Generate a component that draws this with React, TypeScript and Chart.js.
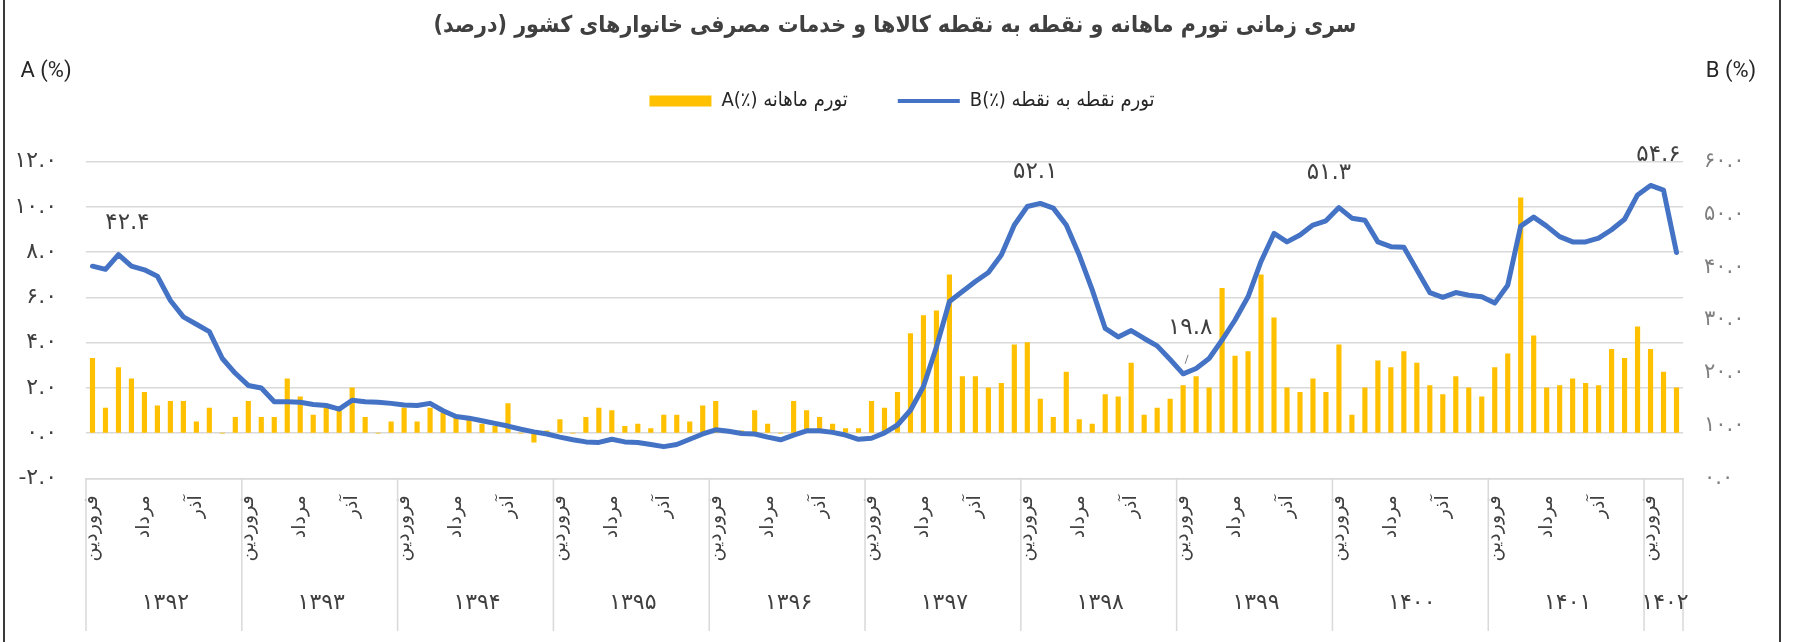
import React, { useEffect, useRef } from 'react';
import { Chart, registerables } from 'chart.js';

Chart.register(...registerables);

// ---------------- data ----------------
const TITLE = 'سری زمانی تورم ماهانه و نقطه به نقطه کالاها و خدمات مصرفی خانوارهای کشور (درصد)';
const YEARS = ['۱۳۹۲', '۱۳۹۳', '۱۳۹۴', '۱۳۹۵', '۱۳۹۶', '۱۳۹۷', '۱۳۹۸', '۱۳۹۹', '۱۴۰۰', '۱۴۰۱', '۱۴۰۲'];
const MONTHS = ['فروردین', 'اردیبهشت', 'خرداد', 'تیر', 'مرداد', 'شهریور', 'مهر', 'آبان', 'آذر', 'دی', 'بهمن', 'اسفند'];
const MONTHS_IN_LAST_YEAR = 3;
const SHOWN_MONTHS = ['فروردین', 'مرداد', 'آذر'];

const SERIES_A_NAME = 'A(٪) تورم ماهانه';
const SERIES_B_NAME = 'B(٪) تورم نقطه به نقطه';
const AXIS_A_TITLE = 'A (%)';
const AXIS_B_TITLE = 'B (%)';

// monthly inflation (left axis)
const MONTHLY_A = [
  3.3, 1.1, 2.9, 2.4, 1.8, 1.2, 1.4, 1.4, 0.5, 1.1, 0.0, 0.7,
  1.4, 0.7, 0.7, 2.4, 1.6, 0.8, 1.1, 1.0, 2.0, 0.7, 0.0, 0.5,
  1.1, 0.5, 1.1, 0.9, 0.7, 0.6, 0.4, 0.3, 1.3, 0.0, -0.4, 0.1,
  0.6, 0.0, 0.7, 1.1, 1.0, 0.3, 0.4, 0.2, 0.8, 0.8, 0.5, 1.2,
  1.4, 0.1, 0.1, 1.0, 0.4, 0.0, 1.4, 1.0, 0.7, 0.4, 0.2, 0.2,
  1.4, 1.1, 1.8, 4.4, 5.2, 5.4, 7.0, 2.5, 2.5, 2.0, 2.2, 3.9,
  4.0, 1.5, 0.7, 2.7, 0.6, 0.4, 1.7, 1.6, 3.1, 0.8, 1.1, 1.5,
  2.1, 2.5, 2.0, 6.4, 3.4, 3.6, 7.0, 5.1, 2.0, 1.8, 2.4, 1.8,
  3.9, 0.8, 2.0, 3.2, 2.9, 3.6, 3.1, 2.1, 1.7, 2.5, 2.0, 1.6,
  2.9, 3.5, 10.4, 4.3, 2.0, 2.1, 2.4, 2.2, 2.1, 3.7, 3.3, 4.7,
  3.7, 2.7, 2.0,
];

// point-to-point inflation (right axis)
const POINT_B = [
  40.2, 39.6, 42.4, 40.2, 39.5, 38.3, 33.7, 30.6, 29.2, 27.8, 22.7, 19.9,
  17.6, 17.1, 14.5, 14.5, 14.4, 14.0, 13.8, 13.1, 14.8, 14.5, 14.4, 14.2,
  13.9, 13.8, 14.2, 12.8, 11.7, 11.4, 10.9, 10.4, 9.9, 9.3, 8.8, 8.4,
  7.8, 7.3, 6.9, 6.8, 7.4, 6.9, 6.8, 6.4, 6.0, 6.4, 7.4, 8.4,
  9.2, 8.9, 8.5, 8.4, 7.8, 7.3, 8.2, 9.0, 9.0, 8.7, 8.2, 7.4,
  7.6, 8.6, 10.1, 12.9, 17.4, 24.9, 33.5, 35.4, 37.3, 39.0, 42.3, 48.0,
  51.5, 52.1, 51.2, 48.0, 42.3, 35.7, 28.4, 26.8, 28.0, 26.5, 25.1, 22.5,
  19.8, 20.8, 22.7, 26.2, 30.0, 34.4, 41.1, 46.4, 44.8, 46.1, 48.0, 48.8,
  51.3, 49.3, 48.9, 44.8, 43.9, 43.8, 39.5, 35.2, 34.3, 35.2, 34.7, 34.4,
  33.2, 36.6, 47.8, 49.5, 47.8, 45.8, 44.8, 44.8, 45.5, 47.1, 49.1, 53.7,
  55.5, 54.6, 42.8,
];

// annotated points of series B
const B_LABEL_INDEX = [2, 73, 84, 96, 121];
const B_LABEL_TEXT = ['۴۲.۴', '۵۲.۱', '۱۹.۸', '۵۱.۳', '۵۴.۶'];

const CATEGORIES: string[] = [];
YEARS.forEach((y, k) => {
  const n = k === YEARS.length - 1 ? MONTHS_IN_LAST_YEAR : 12;
  for (let m = 0; m < n; m++) CATEGORIES.push(MONTHS[m] + ' ' + y);
});

// ---------------- styles ----------------
const FA_FONT = '"DejaVu Sans Condensed", "DejaVu Sans", sans-serif';
const FA_FONT_WIDE = '"DejaVu Sans", sans-serif';
const BAR_COLOR = '#FFC000';
const LINE_COLOR = '#4472C4';
const GRID_COLOR = '#d9d9d9';
const TEXT_DARK = '#404040';
const LABEL_OFFSETS: Record<number, [number, number]> = {
  2: [9, -32],
  73: [-5, -31],
  84: [7, -46],
  96: [-10, -35],
  121: [-5, -35],
};

const toFa = (s: string) => s.replace(/[0-9]/g, (d) => '۰۱۲۳۴۵۶۷۸۹'[Number(d)]);

const overlayPlugin = {
  id: 'overlay',
  beforeLayout(chart: any) {
    const lg = chart.legend;
    if (lg && !lg.__patched) {
      const orig = lg.fit.bind(lg);
      lg.fit = function () {
        orig();
        this.height = 120.7;
      };
      lg.__patched = true;
    }
  },
  afterDatasetsDraw(chart: any) {
    const ctx = chart.ctx;
    const xs = chart.scales.x;
    const yb = chart.scales.y1;
    ctx.save();
    ctx.fillStyle = TEXT_DARK;
    ctx.font = '23px ' + FA_FONT_WIDE;
    (ctx as any).letterSpacing = '1.5px';
    ctx.textAlign = 'center';
    ctx.textBaseline = 'middle';
    B_LABEL_INDEX.forEach((idx, j) => {
      const px = xs.getPixelForValue(idx);
      const py = yb.getPixelForValue(POINT_B[idx]);
      const [dx, dy] = LABEL_OFFSETS[idx] || [0, -32];
      ctx.fillText(B_LABEL_TEXT[j], px + dx, py + dy);
      if (idx === 84) {
        ctx.strokeStyle = '#7f7f7f';
        ctx.lineWidth = 1;
        ctx.beginPath();
        ctx.moveTo(px + 5, py - 19);
        ctx.lineTo(px + 2, py - 10);
        ctx.stroke();
      }
    });
    (ctx as any).letterSpacing = '0px';
    ctx.restore();
  },
  afterDraw(chart: any) {
    const ctx = chart.ctx;
    const xs = chart.scales.x;
    const area = chart.chartArea;
    ctx.save();
    // title
    ctx.fillStyle = TEXT_DARK;
    ctx.font = 'bold 23px ' + FA_FONT;
    ctx.textAlign = 'center';
    ctx.textBaseline = 'middle';
    (ctx as any).direction = 'rtl';
    ctx.fillText(TITLE, 895, 26);
    (ctx as any).direction = 'ltr';
    // axis titles
    ctx.font = '22px Roboto, sans-serif';
    ctx.fillStyle = '#262626';
    ctx.fillText(AXIS_A_TITLE, 46, 71);
    ctx.fillText(AXIS_B_TITLE, 1731, 71);
    // year groups
    const p0 = xs.getPixelForValue(0);
    const step = xs.getPixelForValue(1) - p0;
    const edge = (k: number) => p0 + (k - 0.5) * step;
    ctx.strokeStyle = GRID_COLOR;
    ctx.lineWidth = 1.5;
    ctx.font = '22px ' + FA_FONT_WIDE;
    (ctx as any).letterSpacing = '3px';
    ctx.fillStyle = TEXT_DARK;
    let start = 0;
    YEARS.forEach((y, k) => {
      const n = k === YEARS.length - 1 ? MONTHS_IN_LAST_YEAR : 12;
      const a = edge(start);
      const b = edge(start + n);
      ctx.beginPath();
      ctx.moveTo(a, area.bottom);
      ctx.lineTo(a, 631);
      ctx.stroke();
      if (k === YEARS.length - 1) {
        ctx.beginPath();
        ctx.moveTo(b, area.bottom);
        ctx.lineTo(b, 631);
        ctx.stroke();
      }
      ctx.fillText(y, (a + b) / 2 + 1.5, 603);
      start += n;
    });
    (ctx as any).letterSpacing = '0px';
    ctx.restore();
  },
};

export default function App() {
  const ref = useRef<HTMLCanvasElement | null>(null);
  useEffect(() => {
    if (!ref.current) return;
    const chart = new Chart(ref.current, {
      type: 'bar',
      data: {
        labels: CATEGORIES,
        datasets: [
          {
            type: 'bar',
            label: SERIES_A_NAME,
            data: MONTHLY_A,
            yAxisID: 'y',
            backgroundColor: BAR_COLOR,
            borderWidth: 0,
            barThickness: 4.5,
            order: 2,
          } as any,
          {
            type: 'line',
            label: SERIES_B_NAME,
            data: POINT_B,
            yAxisID: 'y1',
            borderColor: LINE_COLOR,
            backgroundColor: LINE_COLOR,
            borderWidth: 5,
            pointRadius: 0,
            tension: 0,
            borderJoinStyle: 'round',
            borderCapStyle: 'round',
            order: 1,
          } as any,
        ],
      },
      options: {
        responsive: false,
        animation: false,
        devicePixelRatio: 1,
        layout: { padding: { top: 41, left: 0, right: 0, bottom: 0 } },
        plugins: {
          title: { display: false },
          tooltip: { enabled: false },
          legend: {
            display: true,
            position: 'top',
            align: 'center',
            labels: {
              usePointStyle: true,
              pointStyleWidth: 62,
              boxHeight: 11,
              padding: 50,
              color: '#262626',
              font: { family: FA_FONT, size: 20 },
              sort: (a: any, b: any) => a.datasetIndex - b.datasetIndex,
              generateLabels: (c: any) => {
                const items = (Chart.defaults.plugins.legend.labels as any).generateLabels(c);
                return items.map((it: any) =>
                  it.datasetIndex === 0
                    ? { ...it, pointStyle: 'rect', fillStyle: BAR_COLOR, strokeStyle: BAR_COLOR, lineWidth: 0 }
                    : { ...it, pointStyle: 'line', fillStyle: 'rgba(0,0,0,0)', strokeStyle: LINE_COLOR, lineWidth: 4 }
                );
              },
            },
          },
        },
        scales: {
          x: {
            type: 'category',
            offset: true,
            grid: { display: false, drawTicks: false },
            border: { display: true, color: GRID_COLOR, width: 1.5 },
            ticks: {
              autoSkip: false,
              maxRotation: 90,
              minRotation: 90,
              padding: 17,
              color: TEXT_DARK,
              font: { family: FA_FONT_WIDE, size: 19 },
              callback: (_v: any, i: number) => {
                const name = MONTHS[i % 12];
                return SHOWN_MONTHS.includes(name) ? name : '';
              },
            },
            afterFit: (s: any) => {
              s.height = 163.7;
            },
          },
          y: {
            type: 'linear',
            position: 'left',
            min: -2,
            max: 12,
            grid: { color: GRID_COLOR, lineWidth: 1.5, drawTicks: false },
            border: { display: false },
            ticks: {
              stepSize: 2,
              padding: 29,
              color: TEXT_DARK,
              font: { family: FA_FONT_WIDE, size: 22 },
              callback: (v: any) => toFa(Number(v).toFixed(1)),
            },
            afterFit: (s: any) => {
              s.width = 86;
            },
          },
          y1: {
            type: 'linear',
            position: 'right',
            min: 0,
            max: 60,
            grid: { display: false, drawTicks: false },
            border: { display: false },
            ticks: {
              stepSize: 10,
              padding: 21,
              color: '#7f7f7f',
              font: { family: FA_FONT_WIDE, size: 21 },
              callback: (v: any) => toFa(Number(v).toFixed(1)),
            },
            afterFit: (s: any) => {
              s.width = 121;
            },
          },
        },
      } as any,
      plugins: [overlayPlugin as any],
    });
    return () => chart.destroy();
  }, []);

  return (
    <div style={{ position: 'absolute', left: 0, top: 0, width: 1804, height: 642, background: '#fff', overflow: 'hidden' }}>
      <canvas ref={ref} width={1804} height={642} style={{ display: 'block' }} />
      <div
        style={{
          position: 'absolute',
          left: 3,
          top: 0,
          width: 1778,
          height: 642,
          boxSizing: 'border-box',
          borderLeft: '2px solid #3a3a3a',
          borderRight: '2px solid #3a3a3a',
          pointerEvents: 'none',
        }}
      />
    </div>
  );
}
